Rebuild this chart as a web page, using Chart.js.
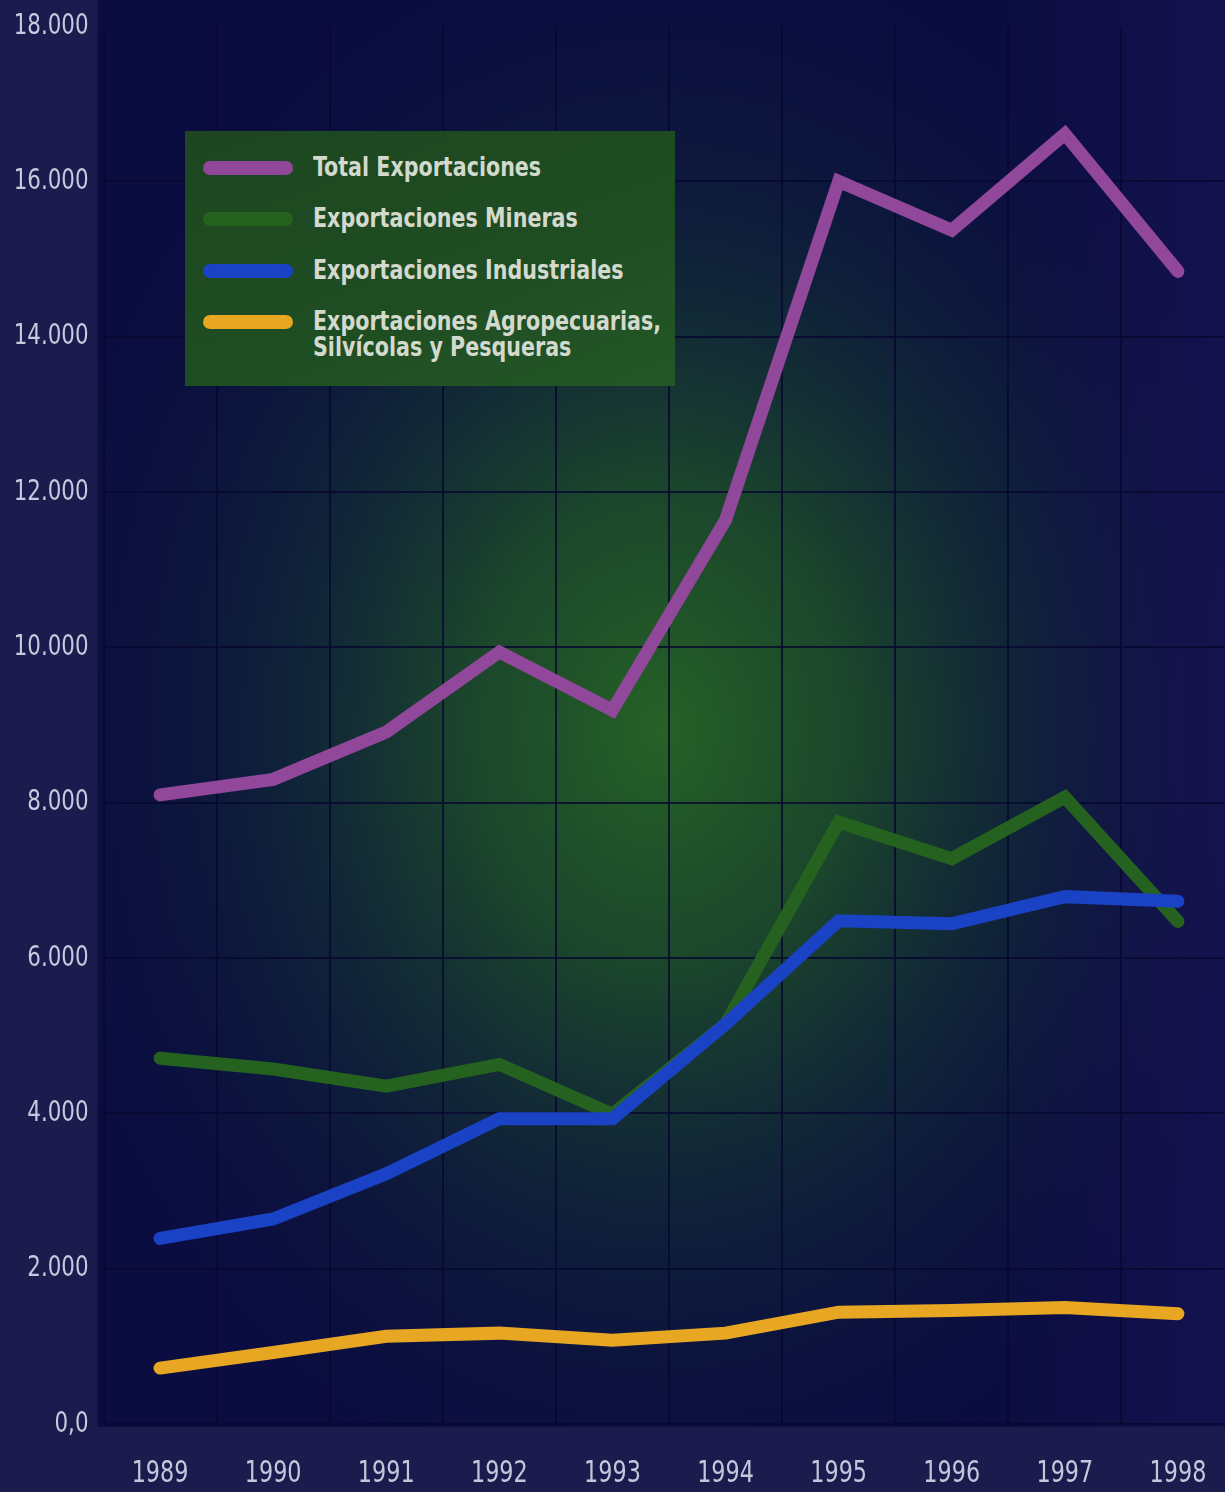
<!DOCTYPE html>
<html>
<head>
<meta charset="utf-8">
<script src="https://cdn.jsdelivr.net/npm/chart.js@4.4.0/dist/chart.umd.min.js"></script>
<style>
  html, body { margin: 0; padding: 0; overflow: hidden; background: #1b1b4e; }
  #wrap { position: relative; width: 1240px; height: 1492px; }
  #legend {
    position: absolute; left: 185px; top: 131px; width: 490px; height: 255px;
    background: linear-gradient(160deg, #1d4620 0%, #1f4d22 60%, #245727 100%);
    font-family: 'DejaVu Sans Condensed', 'DejaVu Sans', sans-serif;
    font-weight: bold; font-size: 27px; color: #d3d9cd;
  }
  .item { position: absolute; left: 18px; }
  .swatch { position: absolute; left: 0; width: 90px; height: 14px; border-radius: 7px; }
  .txt { position: absolute; left: 110px; line-height: 26px; white-space: nowrap;
         transform: scaleX(0.85); transform-origin: 0 50%; }
</style>
</head>
<body>
<div id="wrap">
  <canvas id="expChart"></canvas>
  <div id="legend"></div>
</div>
<script>
var years = ["1989", "1990", "1991", "1992", "1993", "1994", "1995", "1996", "1997", "1998"];
var totalExportaciones = [8100, 8300, 8910, 9940, 9190, 11640, 16000, 15370, 16610, 14840];
var mineras = [4710, 4570, 4350, 4630, 3990, 5150, 7750, 7280, 8070, 6470];
var industriales = [2390, 2640, 3220, 3930, 3930, 5150, 6480, 6440, 6790, 6730];
var agropecuarias = [720, 920, 1130, 1170, 1080, 1170, 1440, 1460, 1500, 1420];
var yTickLabels = ["0,0", "2.000", "4.000", "6.000", "8.000", "10.000", "12.000", "14.000", "16.000", "18.000"];
var seriesNames = [
  ["Total Exportaciones"],
  ["Exportaciones Mineras"],
  ["Exportaciones Industriales"],
  ["Exportaciones Agropecuarias,", "Silvícolas y Pesqueras"]
];
var seriesColors = ['#91479a', '#25621f', '#1a42c4', '#e7a722'];

var condensed = "'DejaVu Sans Condensed', 'DejaVu Sans', sans-serif";

// background: side strips + navy plot with green glow
var bgPlugin = {
  id: 'bg',
  beforeDraw: function(chart) {
    var c = chart.ctx, a = chart.chartArea;
    c.save();
    c.fillStyle = '#1c1b4d';
    c.fillRect(0, 0, chart.width, chart.height);
    var left = a.left - 6, bottom = a.bottom + 3;
    c.fillStyle = '#0b0d40';
    c.fillRect(left, 0, chart.width - left, bottom);
    c.beginPath();
    c.rect(left, 0, chart.width - left, bottom);
    c.clip();
    c.translate(660, 730);
    c.scale(1, 1.25);
    var g = c.createRadialGradient(0, 0, 0, 0, 0, 640);
    g.addColorStop(0, 'rgba(38,98,38,1)');
    g.addColorStop(0.3, 'rgba(30,80,40,0.85)');
    g.addColorStop(0.65, 'rgba(18,48,52,0.45)');
    g.addColorStop(1, 'rgba(12,20,60,0)');
    c.fillStyle = g;
    c.fillRect(-700, -700, 1400, 1400);
    c.setTransform(1, 0, 0, 1, 0, 0);
    var r = c.createLinearGradient(1000, 0, 1225, 0);
    r.addColorStop(0, 'rgba(28,22,90,0)');
    r.addColorStop(1, 'rgba(28,22,90,0.55)');
    c.fillStyle = r;
    c.fillRect(1000, 0, 240, bottom);
    c.restore();
  }
};

// tick labels in a narrow face, placed from the chart's own scales
var tickPlugin = {
  id: 'narrowTicks',
  afterDraw: function(chart) {
    var c = chart.ctx, xs = chart.scales.x, ys = chart.scales.y;
    c.save();
    c.textBaseline = 'middle';
    c.fillStyle = '#c8c9de';
    c.font = '29px ' + condensed;
    c.textAlign = 'right';
    ys.ticks.forEach(function(t, i) {
      c.save();
      c.translate(ys.right - 15, ys.getPixelForValue(t.value));
      c.scale(0.82, 1);
      c.fillText(yTickLabels[i], 0, 0);
      c.restore();
    });
    c.fillStyle = '#c4c6dc';
    c.font = '31px ' + condensed;
    c.textAlign = 'center';
    years.forEach(function(yr, i) {
      c.save();
      c.translate(xs.getPixelForValue(i), xs.top + 50);
      c.scale(0.8, 1);
      c.fillText(yr, 0, 0);
      c.restore();
    });
    c.restore();
  }
};

var datasets = [totalExportaciones, mineras, industriales, agropecuarias].map(function(d, i) {
  return {
    label: seriesNames[i].join(' '),
    data: d,
    borderColor: seriesColors[i],
    borderWidth: 13,
    borderCapStyle: 'round',
    borderJoinStyle: 'miter',
    pointRadius: 0,
    tension: 0,
    order: [1, 3, 2, 4][i]
  };
});

var gridColor = 'rgba(8,8,48,0.8)';

var ctx = document.getElementById("expChart").getContext("2d");
var expChart = new Chart(ctx, {
  type: "line",
  data: { labels: years, datasets: datasets },
  plugins: [bgPlugin, tickPlugin],
  options: {
    responsive: true,
    maintainAspectRatio: false,
    animation: false,
    layout: { padding: { top: 26, right: 5.5, left: 0, bottom: 0 } },
    plugins: { legend: { display: false }, tooltip: { enabled: false } },
    scales: {
      x: {
        offset: true,
        border: { display: false },
        grid: { color: gridColor, lineWidth: 2, drawTicks: false, offset: true },
        ticks: { display: false },
        afterFit: function(s) { s.height = 68; }
      },
      y: {
        min: 0, max: 18000,
        border: { display: false },
        grid: {
          lineWidth: 2, drawTicks: false,
          color: function(g) { return g.tick && g.tick.value === 18000 ? 'rgba(0,0,0,0)' : gridColor; }
        },
        ticks: { stepSize: 2000, display: false },
        afterFit: function(s) { s.width = 103.5; }
      }
    }
  }
});

// html legend
var lg = document.getElementById("legend");
var rowTops = [37, 88, 140, 191];
seriesNames.forEach(function(name, i) {
  var it = document.createElement("div");
  it.className = "item";
  it.style.top = rowTops[i] + "px";
  var sw = document.createElement("div");
  sw.className = "swatch";
  sw.style.background = seriesColors[i];
  sw.style.top = "-7px";
  var tx = document.createElement("div");
  tx.className = "txt";
  tx.style.top = "-14px";
  tx.innerHTML = name.join("<br>");
  it.appendChild(sw);
  it.appendChild(tx);
  lg.appendChild(it);
});
</script>
</body>
</html>
